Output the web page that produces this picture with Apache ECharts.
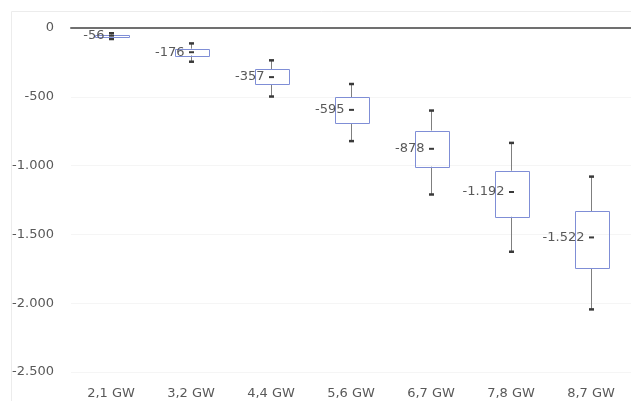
<!DOCTYPE html>
<html>
<head>
<meta charset="utf-8">
<script src="https://cdn.jsdelivr.net/npm/echarts@6/dist/echarts.min.js"></script>
<style>
  html, body { margin: 0; padding: 0; background: #ffffff; }
  #chart { width: 631px; height: 401px; }
</style>
</head>
<body>
<div id="chart"></div>
<script>
// Installed capacity scenarios
const categories = ['2,1 GW', '3,2 GW', '4,4 GW', '5,6 GW', '6,7 GW', '7,8 GW', '8,7 GW'];

// Box plot statistics per scenario
const minVals  = [-80, -245, -498, -822, -1210, -1626, -2045];
const q1Vals   = [-64, -200, -410, -693, -1008, -1372, -1745];
const q3Vals   = [-48, -150, -300, -505, -745, -1037, -1330];
const maxVals  = [-38, -112, -235, -407, -600, -835, -1080];
const meanVals = [-56, -176, -357, -595, -878, -1192, -1522];

// Value axis ticks
const yMin = -2500;
const yMax = 0;
const yStep = 500;

function fmt(v) {
  const neg = v < 0;
  const s = String(Math.abs(Math.round(v))).replace(/\B(?=(\d{3})+(?!\d))/g, '.');
  return (neg ? '-' : '') + s;
}

const data = categories.map((c, i) => [i, minVals[i], q1Vals[i], q3Vals[i], maxVals[i], meanVals[i]]);

const textColor = '#595959';
const boxColor = '#7f8ed6';
const whiskerColor = '#7f7f7f';
const markColor = '#3a3a3a';
const fontFamily = '"DejaVu Sans", sans-serif';

function px(v) { return Math.round(v) + 0.5; }

function renderItem(params, api) {
  const idx = api.value(0);
  const pMin = api.coord([idx, api.value(1)]);
  const pQ1 = api.coord([idx, api.value(2)]);
  const pQ3 = api.coord([idx, api.value(3)]);
  const pMax = api.coord([idx, api.value(4)]);
  const pMean = api.coord([idx, api.value(5)]);
  const cx = px(pMin[0]);
  const bw = api.size([1, 0])[0] * 0.42;
  const meanVal = api.value(5);

  const children = [
    { type: 'line', shape: { x1: cx, y1: pMax[1], x2: cx, y2: pQ3[1] },
      style: { stroke: whiskerColor, lineWidth: 1 } },
    { type: 'line', shape: { x1: cx, y1: pQ1[1], x2: cx, y2: pMin[1] },
      style: { stroke: whiskerColor, lineWidth: 1 } },
    { type: 'line', shape: { x1: cx - 2.5, y1: pMax[1], x2: cx + 2.5, y2: pMax[1] },
      style: { stroke: markColor, lineWidth: 2.5 } },
    { type: 'line', shape: { x1: cx - 2.5, y1: pMin[1], x2: cx + 2.5, y2: pMin[1] },
      style: { stroke: markColor, lineWidth: 2.5 } },
    { type: 'rect',
      shape: { x: px(cx - bw / 2), y: px(pQ3[1]), width: Math.round(bw), height: Math.max(1, Math.round(pQ1[1] - pQ3[1])) },
      style: { fill: 'none', stroke: boxColor, lineWidth: 1 } },
    { type: 'line', shape: { x1: cx - 2.5, y1: pMean[1], x2: cx + 2.5, y2: pMean[1] },
      style: { stroke: markColor, lineWidth: 2 } },
    { type: 'text', x: cx - 7, y: pMean[1],
      style: { text: fmt(meanVal), fill: textColor, font: '13px ' + fontFamily,
               align: 'right', verticalAlign: 'middle' } }
  ];
  return { type: 'group', children: children };
}

const chart = echarts.init(document.getElementById('chart'), null, { renderer: 'canvas' });

chart.setOption({
  animation: false,
  backgroundColor: '#ffffff',
  graphic: [
    { type: 'rect', shape: { x: 11.5, y: 11.5, width: 700, height: 500 },
      style: { fill: 'none', stroke: '#ececec', lineWidth: 1 }, silent: true, z: -1 }
  ],
  grid: { left: 71, right: -12, top: 28, bottom: 29, containLabel: false },
  xAxis: [
    {
      type: 'category',
      data: categories,
      position: 'bottom',
      boundaryGap: true,
      axisLine: { show: false, onZero: false },
      axisTick: { show: false },
      axisLabel: { color: textColor, fontFamily: fontFamily, fontSize: 13, margin: 15 },
      splitLine: { show: false }
    },
    {
      type: 'category',
      data: categories,
      position: 'top',
      axisLine: { show: true, onZero: false, lineStyle: { color: '#707070', width: 2 } },
      axisTick: { show: false },
      axisLabel: { show: false },
      splitLine: { show: false }
    }
  ],
  yAxis: {
    type: 'value',
    min: yMin,
    max: yMax,
    interval: yStep,
    axisLine: { show: false },
    axisTick: { show: false },
    axisLabel: { color: textColor, fontFamily: fontFamily, fontSize: 13, margin: 17,
                 formatter: v => fmt(v) },
    splitLine: { show: true, lineStyle: { color: '#f5f5f5', width: 1 } }
  },
  series: [
    {
      type: 'custom',
      renderItem: renderItem,
      xAxisIndex: 0,
      encode: { x: 0, y: [1, 2, 3, 4, 5] },
      data: data,
      clip: false
    }
  ]
});
</script>
</body>
</html>
